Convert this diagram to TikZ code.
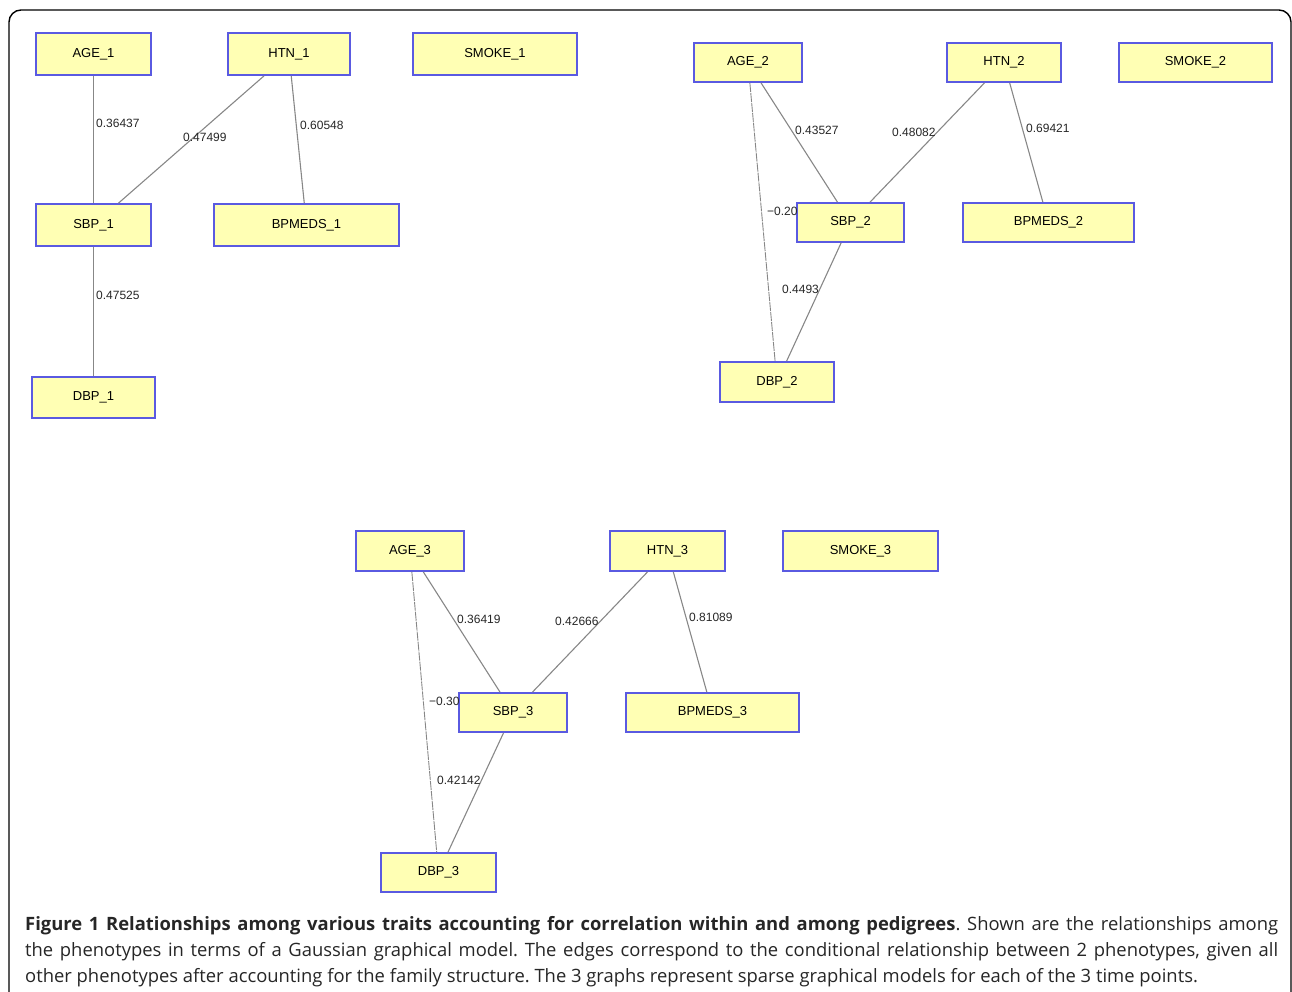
\documentclass[tikz,border=0pt]{standalone}
\usepackage{fontspec}
\setmainfont{Liberation Sans}
\newfontfamily\capfont{Open Sans}
\definecolor{boxfill}{RGB}{255,255,180}
\definecolor{boxdraw}{RGB}{90,90,225}
\definecolor{edgegray}{RGB}{135,135,135}
\begin{document}
\begin{tikzpicture}[x=1pt,y=-1pt,
  box/.style={draw=boxdraw, fill=boxfill, line width=1.8pt, inner sep=0pt, minimum height=42, font=\fontsize{13}{15}\selectfont},
  edge/.style={draw=edgegray, line width=1.1pt},
  thinedge/.style={draw=edgegray, line width=0.9pt, dash pattern=on 9pt off 1pt},
  lbl/.style={inner sep=0pt, anchor=west, font=\fontsize{12}{14}\selectfont, text=black!85}
]
\useasboundingbox (0,0) rectangle (1292,991);
\draw[line width=1.4pt, rounded corners=12pt] (9,1000) -- (9,10) -- (1291,10) -- (1291,1000);

% ---------- Graph 1 ----------
\node[box, minimum width=115, minimum height=42] (age1) at (93.5,54) {AGE\_1};
\node[box, minimum width=122, minimum height=42] (htn1) at (289,54) {HTN\_1};
\node[box, minimum width=164, minimum height=42] (smoke1) at (495,54) {SMOKE\_1};
\node[box, minimum width=115, minimum height=42] (sbp1) at (93.5,225) {SBP\_1};
\node[box, minimum width=185, minimum height=42] (bpmeds1) at (306.5,225) {BPMEDS\_1};
\node[box, minimum width=123, minimum height=41] (dbp1) at (93.5,397.5) {DBP\_1};

\path[edge] (age1) -- (sbp1);
\path[edge] (htn1) -- (sbp1);
\path[edge] (htn1) -- (bpmeds1);
\path[edge] (sbp1) -- (dbp1);
\node[lbl] (l1a) at (96,123) {0.36437};
\node[lbl] (l1b) at (183,137) {0.47499};
\node[lbl] (l1c) at (300,125) {0.60548};
\node[lbl] (l1d) at (96,295) {0.47525};

% ---------- Graph 2 ----------
\node[box, minimum width=108, minimum height=39] (age2) at (748,62.5) {AGE\_2};
\node[box, minimum width=114, minimum height=39] (htn2) at (1004,62.5) {HTN\_2};
\node[box, minimum width=153, minimum height=39] (smoke2) at (1195.5,62.5) {SMOKE\_2};
\node[box, minimum width=107, minimum height=39] (sbp2) at (850.5,222.5) {SBP\_2};
\node[box, minimum width=171, minimum height=39] (bpmeds2) at (1048.5,222.5) {BPMEDS\_2};
\node[box, minimum width=114, minimum height=40] (dbp2) at (777,382) {DBP\_2};

\path[edge] (age2) -- (sbp2);
\path[thinedge] (age2) -- (dbp2);
\path[edge] (htn2) -- (sbp2);
\path[edge] (htn2) -- (bpmeds2);
\path[edge] (sbp2) -- (dbp2);
\node[lbl] (l2a) at (795,130) {0.43527};
\node[lbl] (l2b) at (767,211) {−0.20};
\node[lbl] (l2c) at (892,132) {0.48082};
\node[lbl] (l2d) at (1026,128) {0.69421};
\node[lbl] (l2e) at (782,289) {0.4493};

% ---------- Graph 3 ----------
\node[box, minimum width=108, minimum height=40] (age3) at (410,551) {AGE\_3};
\node[box, minimum width=115, minimum height=40] (htn3) at (667.5,551) {HTN\_3};
\node[box, minimum width=155, minimum height=40] (smoke3) at (860.5,551) {SMOKE\_3};
\node[box, minimum width=108, minimum height=39] (sbp3) at (513,712.5) {SBP\_3};
\node[box, minimum width=173, minimum height=39] (bpmeds3) at (712.5,712.5) {BPMEDS\_3};
\node[box, minimum width=115, minimum height=39] (dbp3) at (438.5,872.5) {DBP\_3};

\path[edge] (age3) -- (sbp3);
\path[thinedge] (age3) -- (dbp3);
\path[edge] (htn3) -- (sbp3);
\path[edge] (htn3) -- (bpmeds3);
\path[edge] (sbp3) -- (dbp3);
\node[lbl] (l3a) at (457,619) {0.36419};
\node[lbl] (l3b) at (429,701) {−0.30};
\node[lbl] (l3c) at (555,621) {0.42666};
\node[lbl] (l3d) at (689,617) {0.81089};
\node[lbl] (l3e) at (437,780) {0.42142};

% ---------- Caption ----------
\node[anchor=north west, inner sep=0pt, text width=1253, align=justify,
      font=\capfont\fontsize{18.4}{26}\selectfont\frenchspacing, text=black!85] (caption) at (25,916)
{\textbf{Figure 1 Relationships among various traits accounting for correlation within and among pedigrees}. Shown are the relationships among\linebreak
the phenotypes in terms of a Gaussian graphical model. The edges correspond to the conditional relationship between 2 phenotypes, given all\linebreak
other phenotypes after accounting for the family structure. The 3 graphs represent sparse graphical models for each of the 3 time points.};
\end{tikzpicture}
\end{document}
